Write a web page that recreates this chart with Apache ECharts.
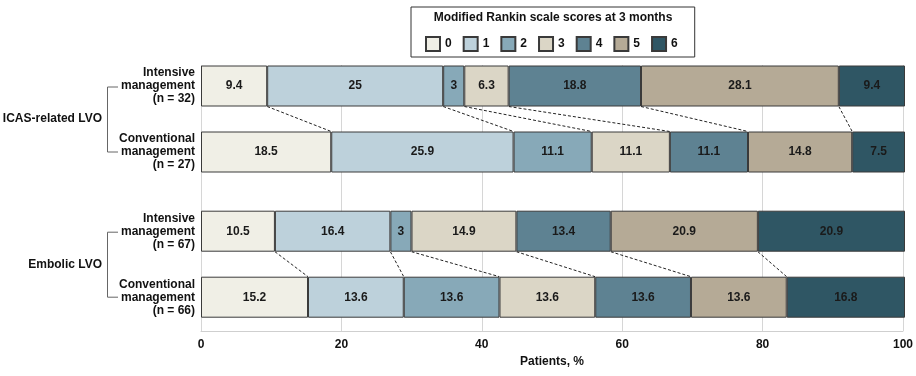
<!DOCTYPE html>
<html>
<head>
<meta charset="utf-8">
<script src="https://cdn.jsdelivr.net/npm/echarts@6/dist/echarts.min.js"></script>
<style>
  html, body { margin: 0; padding: 0; background: #fff; }
  #main { width: 916px; height: 376px; }
</style>
</head>
<body>
<div id="main"></div>
<script>
var myChart = echarts.init(document.getElementById('main'));

// groups and rows (top to bottom)
var groups = ['ICAS-related LVO', 'Embolic LVO'];
var rowNames = [
  'Intensive\nmanagement\n(n = 32)',
  'Conventional\nmanagement\n(n = 27)',
  'Intensive\nmanagement\n(n = 67)',
  'Conventional\nmanagement\n(n = 66)'
];
var scores = ['0', '1', '2', '3', '4', '5', '6'];

// % of patients per mRS score, one value per row
var mrs0 = [9.4, 18.5, 10.5, 15.2];
var mrs1 = [25, 25.9, 16.4, 13.6];
var mrs2 = [3, 11.1, 3, 13.6];
var mrs3 = [6.3, 11.1, 14.9, 13.6];
var mrs4 = [18.8, 11.1, 13.4, 13.6];
var mrs5 = [28.1, 14.8, 20.9, 13.6];
var mrs6 = [9.4, 7.5, 20.9, 16.8];
var mrsAll = [mrs0, mrs1, mrs2, mrs3, mrs4, mrs5, mrs6];

// layout: which slot of the category axis each row sits in
var rowSlot = [0, 5, 11, 16];
var slotCount = 17;
var barW = 41;
var colors = ['#f0efe6', '#bdd1db', '#87a9b8', '#dbd6c6', '#5e8292', '#b5aa96', '#2f5664'];
var font = "'Liberation Sans', Arial, sans-serif";

var slotLabels = [];
for (var i = 0; i < slotCount; i++) slotLabels.push('');
rowNames.forEach(function (n, r) { slotLabels[rowSlot[r]] = n; });

function toSlots(vals) {
  var out = [];
  for (var i = 0; i < slotCount; i++) out.push('-');
  vals.forEach(function (v, r) { out[rowSlot[r]] = v; });
  return out;
}

// cumulative boundaries -> dashed connectors between the two rows of each group
var connectors = [];
for (var g = 0; g < 2; g++) {
  var up = g * 2, lo = g * 2 + 1;
  var cu = 0, cl = 0;
  for (var k = 0; k < 6; k++) {
    cu += mrsAll[k][up];
    cl += mrsAll[k][lo];
    connectors.push([+cu.toFixed(2), +cl.toFixed(2), rowSlot[up], rowSlot[lo]]);
  }
}

var barSeries = scores.map(function (s, k) {
  return {
    name: s,
    type: 'bar',
    stack: 'total',
    xAxisIndex: 1,
    yAxisIndex: 1,
    barWidth: barW,
    clip: false,
    itemStyle: { color: colors[k], borderColor: '#3a3a3a', borderWidth: 1 },
    label: {
      show: true,
      position: 'inside',
      color: '#1a1a1a',
      fontWeight: 'bold',
      fontSize: 12,
      fontFamily: font
    },
    emphasis: { disabled: true },
    data: toSlots(mrsAll[k])
  };
});

var option = {
  animation: false,
  textStyle: { fontFamily: font },
  legend: {
    left: 411,
    top: 7,
    padding: [29, 17, 5, 14],
    borderColor: '#333',
    borderWidth: 1,
    itemWidth: 14,
    itemHeight: 14,
    itemGap: 11,
    icon: 'rect',
    textStyle: { fontWeight: 'bold', fontSize: 12, color: '#111' },
    data: scores
  },
  grid: [
    { left: 201, right: 11, top: 65, bottom: 45 },
    { left: 201, right: 11, top: 79.4, height: slotCount * 13.2 }
  ],
  xAxis: [
    {
      gridIndex: 0,
      type: 'value',
      min: 0,
      max: 100,
      interval: 20,
      name: 'Patients, %',
      nameLocation: 'middle',
      nameGap: 21,
      nameTextStyle: { fontWeight: 'bold', fontSize: 12, color: '#111' },
      axisLine: { show: true, lineStyle: { color: '#cfcfcf' } },
      axisTick: { show: false },
      axisLabel: { fontWeight: 'bold', fontSize: 12, color: '#111', margin: 8 },
      splitLine: { show: true, lineStyle: { color: '#d6d6d6' } }
    },
    {
      gridIndex: 1,
      type: 'value',
      min: 0,
      max: 100,
      show: false,
      splitLine: { show: false }
    }
  ],
  yAxis: [
    { gridIndex: 0, type: 'value', show: false, min: 0, max: 1, splitLine: { show: false } },
    {
      gridIndex: 1,
      type: 'category',
      inverse: true,
      data: slotLabels,
      axisLine: { show: false },
      axisTick: { show: false },
      splitLine: { show: false },
      axisLabel: {
        interval: 0,
        margin: 6,
        fontWeight: 'bold',
        fontSize: 12,
        lineHeight: 13,
        color: '#111',
        align: 'right'
      }
    }
  ],
  series: barSeries.concat([{
    type: 'custom',
    xAxisIndex: 1,
    yAxisIndex: 1,
    silent: true,
    clip: false,
    z: 5,
    encode: { x: [0, 1], y: [2, 3] },
    renderItem: function (params, api) {
      var p1 = api.coord([api.value(0), api.value(2)]);
      var p2 = api.coord([api.value(1), api.value(3)]);
      return {
        type: 'line',
        shape: { x1: p1[0], y1: p1[1] + barW / 2, x2: p2[0], y2: p2[1] - barW / 2 },
        style: { stroke: '#222', lineWidth: 1, lineDash: [3, 2] }
      };
    },
    data: connectors
  }])
};

option && myChart.setOption(option);

// group labels, brackets and legend title placed from the axis scale
var gfx = [{
  type: 'text',
  x: 553,
  y: 18,
  style: {
    text: 'Modified Rankin scale scores at 3 months',
    fill: '#111',
    font: 'bold 12px ' + font,
    textAlign: 'center',
    textVerticalAlign: 'middle'
  }
}];
groups.forEach(function (name, g) {
  var y1 = myChart.convertToPixel({ yAxisIndex: 1 }, rowSlot[g * 2]);
  var y2 = myChart.convertToPixel({ yAxisIndex: 1 }, rowSlot[g * 2 + 1]);
  gfx.push({
    type: 'polyline',
    shape: { points: [[118, y1 + 1], [107.5, y1 + 1], [107.5, y2], [118, y2]] },
    style: { stroke: '#666', lineWidth: 1, fill: null }
  });
  gfx.push({
    type: 'text',
    x: 102,
    y: (y1 + y2) / 2,
    style: {
      text: name,
      fill: '#111',
      font: 'bold 12px ' + font,
      textAlign: 'right',
      textVerticalAlign: 'middle'
    }
  });
});
myChart.setOption({ graphic: gfx });
</script>
</body>
</html>
